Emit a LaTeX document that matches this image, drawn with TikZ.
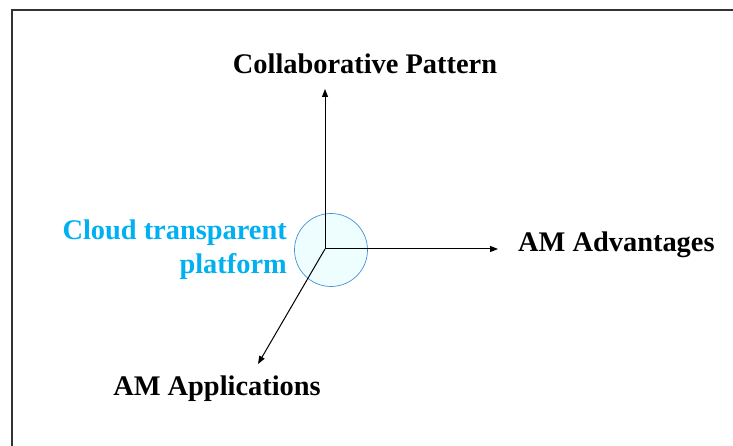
\documentclass[tikz,border=0pt]{standalone}
\usepackage{fontspec}
\setmainfont{Liberation Serif}
\usetikzlibrary{arrows.meta,positioning}

\definecolor{cloudblue}{RGB}{0,176,240}
\definecolor{ringblue}{RGB}{70,145,210}
\definecolor{ringfill}{RGB}{238,254,255}

\begin{document}
\begin{tikzpicture}[
        x=1bp, y=-1bp,
        axis/.style={-{Triangle[length=8bp,width=6bp]}, line width=1bp, black},
        dimlabel/.style={font=\fontsize{28.5}{34}\selectfont\bfseries, inner sep=0pt},
        hub/.style={circle, draw=ringblue, fill=ringfill, line width=0.7bp, minimum size=73bp, inner sep=0pt}
      ]
      \useasboundingbox (0,0) rectangle (733,446);
      \clip (0,0) rectangle (733,446);

      % outer frame
      \draw[line width=1.2bp, black!80] (12,10) rectangle (760,470);

      % centre of the three axes
      \node[hub] (hub) at (331,250) {};
      \coordinate (o) at (325,249);
      \coordinate (up) at (325,89);
      \coordinate (rt) at (498,249);
      \coordinate (dl) at (258,364);

      \draw[axis] (o) -- (up);
      \draw[axis] (o) -- (rt);
      \draw[axis] (o) -- (dl);

      % axis labels
      \node[dimlabel] (collab) at (365,64) {Collaborative Pattern};
      \node[dimlabel, anchor=west] (adv) at (518,245) {AM Advantages};
      \node[dimlabel] (apps) at (217,389) {AM Applications};
      \node[dimlabel, cloudblue, align=right, anchor=east] (cloud) at (287,250)
        {Cloud transparent\\platform};

\end{tikzpicture}
\end{document}
